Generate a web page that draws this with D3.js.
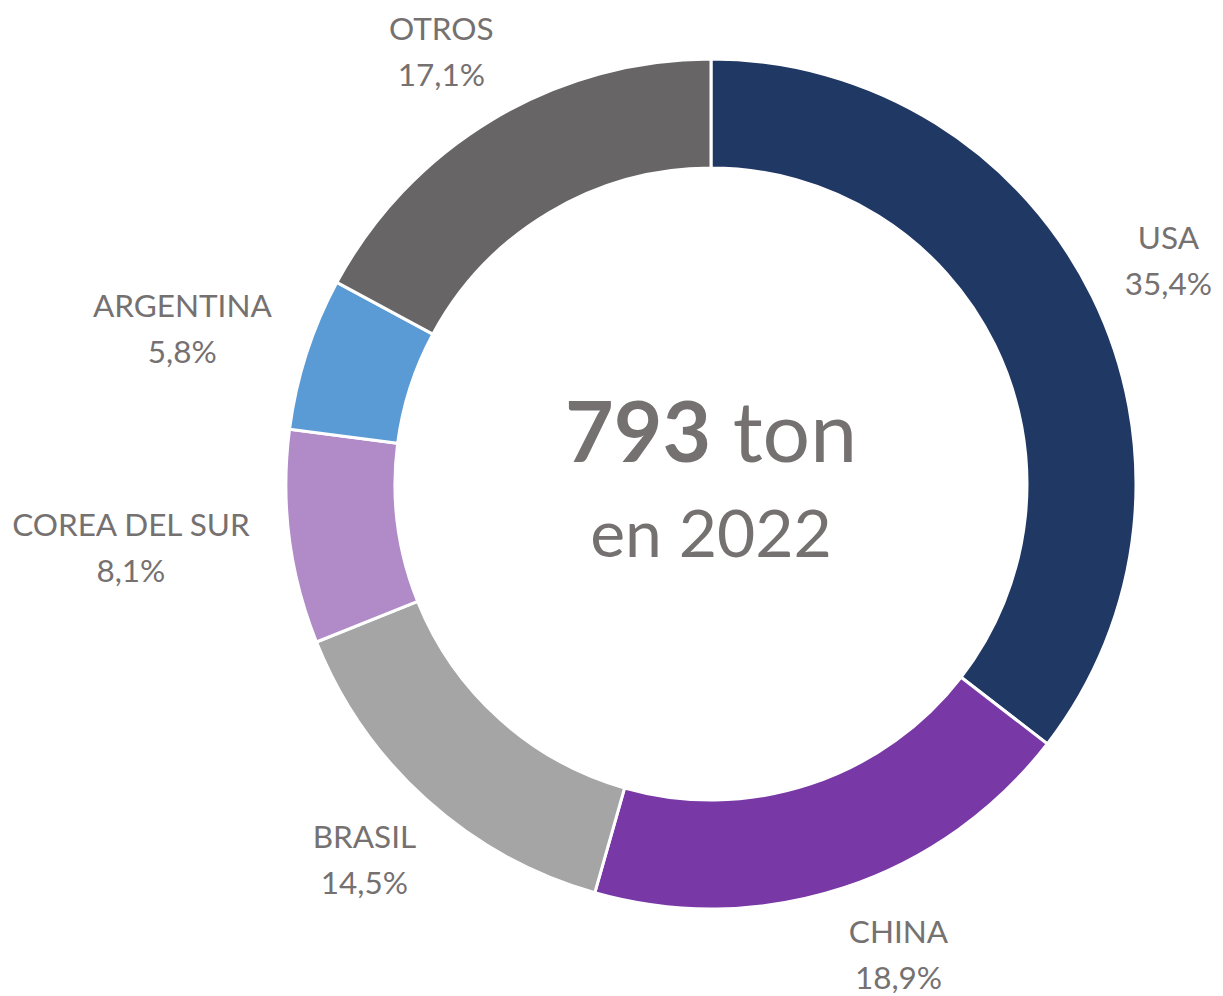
<!DOCTYPE html>
<html>
<head>
<meta charset="utf-8">
<script src="https://cdn.jsdelivr.net/npm/d3@7"></script>
<style>
  body { margin: 0; background: #fff; }
  svg text { font-family: Lato, "Open Sans", sans-serif; fill: #767171; }
</style>
</head>
<body>
<script>
// datos del grafico
var paises = ["USA", "CHINA", "BRASIL", "COREA DEL SUR", "ARGENTINA", "OTROS"];
var porcentajes = [35.4, 18.9, 14.5, 8.1, 5.8, 17.1];
var colores = ["#203864", "#7838A5", "#A5A5A5", "#B08BC8", "#5B9BD5", "#676566"];
var totalTon = "793";
var anio = "2022";

var width = 1223, height = 996;
var cx = 711, cy = 484;
var rOut = 425, rIn = 316, rLabel = 466;

var svg = d3.select("body").append("svg")
    .attr("width", width)
    .attr("height", height)
    .attr("viewBox", "0 0 " + width + " " + height);

var g = svg.append("g").attr("transform", "translate(" + cx + "," + cy + ")");

var datos = paises.map(function(p, i) { return { pais: p, valor: porcentajes[i], color: colores[i] }; });

var pie = d3.pie().sort(null).value(function(d) { return d.valor; });
var arc = d3.arc().innerRadius(rIn).outerRadius(rOut);
var arcos = pie(datos);

g.selectAll("path.slice")
    .data(arcos)
    .enter().append("path")
    .attr("class", "slice")
    .attr("d", arc)
    .attr("fill", function(d) { return d.data.color; })
    .attr("stroke", "#fff")
    .attr("stroke-width", 3);

// etiquetas afuera (se corren sobre el circulo si no entran arriba/abajo)
var fmt = function(v) { return v.toFixed(1).replace(".", ",") + "%"; };
var lineH = 46;
var boxH = 88;
var yMin = 8 - cy + boxH / 2, yMax = 999 - cy - boxH / 2;

arcos.forEach(function(d) {
    var a = (d.startAngle + d.endAngle) / 2;
    var lab = g.append("g");
    var t1 = lab.append("text").attr("text-anchor", "middle").attr("font-size", 31.5).text(d.data.pais);
    var t2 = lab.append("text").attr("text-anchor", "middle").attr("font-size", 31.5).text(fmt(d.data.valor));
    var w = Math.max(t1.node().getComputedTextLength(), t2.node().getComputedTextLength());
    var x = Math.sin(a) * (rLabel + w / 2);
    var y = -Math.cos(a) * (rLabel + 40);
    var rho = Math.sqrt(x * x + y * y);
    if (y < yMin || y > yMax) {
        y = Math.max(yMin, Math.min(yMax, y));
        x = (x < 0 ? -1 : 1) * Math.sqrt(rho * rho - y * y);
    }
    t1.attr("x", x).attr("y", y - lineH / 2).attr("dy", "0.35em");
    t2.attr("x", x).attr("y", y + lineH / 2).attr("dy", "0.35em");
});

// texto central
var c1 = g.append("text").attr("text-anchor", "middle").attr("y", -22);
c1.append("tspan").attr("font-weight", "bold").attr("font-size", 84).text(totalTon);
c1.append("tspan").attr("font-size", 84).text(" ton");

g.append("text").attr("text-anchor", "middle").attr("y", 73)
    .attr("font-size", 66).text("en " + anio);
</script>
</body>
</html>
